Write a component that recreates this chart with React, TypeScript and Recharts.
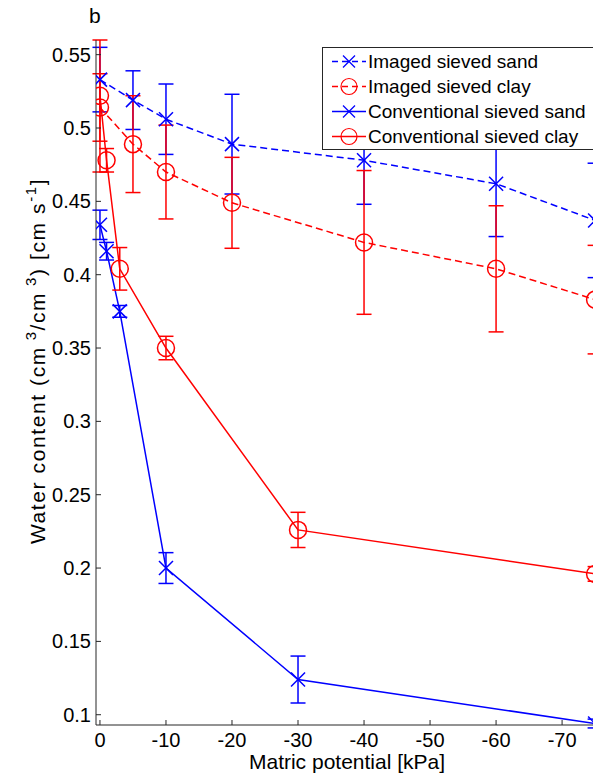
import React from 'react';
import { LineChart, Line, XAxis, YAxis, ErrorBar } from 'recharts';

// matric potential [kPa]
const imagedPotential = [0, -5, -10, -20, -40, -60, -75];
const conventionalPotential = [0, -1, -3, -10, -30, -75];

// water content and error (minus, plus) per series
const imagedSand = [0.533, 0.519, 0.506, 0.489, 0.478, 0.462, 0.437];
const imagedSandErr = [0.022, 0.02, 0.024, 0.034, 0.03, 0.036, 0.039];
const imagedClay = [0.514, 0.489, 0.47, 0.449, 0.422, 0.404, 0.383];
const imagedClayErr = [0.023, 0.033, 0.032, 0.031, 0.049, 0.043, 0.037];
const conventionalSand = [0.434, 0.416, 0.375, 0.2, 0.124, 0.094];
const conventionalSandErr = [0.01, 0.006, 0.004, 0.0105, 0.016, 0.003];
const conventionalClay = [0.522, 0.478, 0.404, 0.35, 0.226, 0.196];
const conventionalClayErr = [0.052, 0.008, 0.0145, 0.008, 0.012, 0.005];
// first clay bar runs off the top of the axes, only the visible part is kept
const conventionalClayErrTop = [0.038, 0.008, 0.0145, 0.008, 0.012, 0.005];

const xTicks = [0, -10, -20, -30, -40, -50, -60, -70];
const yTicks = [0.1, 0.15, 0.2, 0.25, 0.3, 0.35, 0.4, 0.45, 0.5, 0.55];

const BLUE = '#0000ff';
const RED = '#ff0000';
const AXIS = '#262626';
const FONT = '"Liberation Sans", Arial, Helvetica, sans-serif';

const rows = (xs: number[], ys: number[], lo: number[], hi: number[] = lo) =>
  xs.map((x, i) => ({ x, y: ys[i], err: [lo[i], hi[i]] }));

const imagedSandData = rows(imagedPotential, imagedSand, imagedSandErr);
const imagedClayData = rows(imagedPotential, imagedClay, imagedClayErr);
const convSandData = rows(conventionalPotential, conventionalSand, conventionalSandErr);
const convClayData = rows(conventionalPotential, conventionalClay, conventionalClayErr, conventionalClayErrTop);

const crossDot = (color: string) => (props: any) => {
  const { cx, cy, index } = props;
  const s = 7;
  return (
    <g key={`x-${index}`}>
      <line x1={cx - s} y1={cy - s} x2={cx + s} y2={cy + s} stroke={color} strokeWidth={1.5} />
      <line x1={cx - s} y1={cy + s} x2={cx + s} y2={cy - s} stroke={color} strokeWidth={1.5} />
    </g>
  );
};

const circleDot = (color: string) => (props: any) => {
  const { cx, cy, index } = props;
  return <circle key={`o-${index}`} cx={cx} cy={cy} r={8.5} fill="none" stroke={color} strokeWidth={1.5} />;
};

const YLabel = () => {
  const cy = 361;
  return (
    <g>
      <text x={89} y={23} fontSize={21} fontFamily={FONT} fill="#000">b</text>
      <text
        transform="rotate(-90)"
        x={-cy}
        y={45}
        textAnchor="middle"
        fontSize={21}
        fontFamily={FONT}
        letterSpacing={1.6}
        fill="#000"
      >
        Water content (cm
        <tspan dy={-9} fontSize={15}> 3</tspan>
        <tspan dy={9}>/cm</tspan>
        <tspan dy={-9} fontSize={15}> 3</tspan>
        <tspan dy={9}>) [cm s</tspan>
        <tspan dy={-9} fontSize={15}>-1</tspan>
        <tspan dy={9}>]</tspan>
      </text>
    </g>
  );
};

const XLabel = () => (
  <text x={347} y={769} textAnchor="middle" fontSize={21} fontFamily={FONT} fill="#000">
    Matric potential [kPa]
  </text>
);

const legendItems = [
  { name: 'Imaged sieved sand', color: BLUE, dash: true, marker: 'x' },
  { name: 'Imaged sieved clay', color: RED, dash: true, marker: 'o' },
  { name: 'Conventional sieved sand', color: BLUE, dash: false, marker: 'x' },
  { name: 'Conventional sieved clay', color: RED, dash: false, marker: 'o' },
];

const LegendBox = () => (
  <div
    style={{
      position: 'absolute',
      left: 322,
      top: 47,
      width: 290,
      border: `1px solid ${AXIS}`,
      background: '#fff',
      padding: '1px 0 0 9px',
      fontFamily: FONT,
      fontSize: 19,
      color: '#000',
      boxSizing: 'border-box',
    }}
  >
    {legendItems.map((it) => (
      <div key={it.name} style={{ display: 'flex', alignItems: 'center', height: 25 }}>
        <svg width={34} height={25}>
          <line x1={0} y1={12.5} x2={34} y2={12.5} stroke={it.color} strokeWidth={1.5}
            strokeDasharray={it.dash ? '6 4' : undefined} />
          {it.marker === 'x' ? (
            <g stroke={it.color} strokeWidth={1.2}>
              <line x1={11} y1={6.5} x2={23} y2={18.5} />
              <line x1={11} y1={18.5} x2={23} y2={6.5} />
            </g>
          ) : (
            <circle cx={17} cy={12.5} r={8} fill="none" stroke={it.color} strokeWidth={1.2} />
          )}
        </svg>
        <span style={{ marginLeft: 2, whiteSpace: 'nowrap' }}>{it.name}</span>
      </div>
    ))}
  </div>
);

const App: React.FC = () => {
  const tickStyle = { fontSize: 20, fontFamily: FONT, fill: '#000' };
  return (
    <div style={{ position: 'absolute', left: 0, top: 0, width: 593, height: 779, overflow: 'hidden', background: '#fff' }}>
      <LineChart width={620} height={779} margin={{ top: 40, right: 15, left: 36, bottom: 0 }}>
        <XAxis
          type="number"
          dataKey="x"
          domain={[-76.5, 0.6]}
          reversed
          allowDataOverflow
          ticks={xTicks}
          interval={0}
          height={54}
          tickSize={-5}
          tickMargin={13}
          tick={tickStyle}
          stroke={AXIS}
          label={<XLabel />}
        />
        <YAxis
          type="number"
          domain={[0.093, 0.56]}
          allowDataOverflow
          ticks={yTicks}
          interval={0}
          width={60}
          tickSize={-5}
          tickMargin={10}
          tick={tickStyle}
          stroke={AXIS}
          label={<YLabel />}
        />
        <Line data={imagedSandData} dataKey="y" stroke={BLUE} strokeWidth={1.5} strokeDasharray="7 4"
          dot={crossDot(BLUE)} isAnimationActive={false}>
          <ErrorBar dataKey="err" direction="y" width={7.5} stroke={BLUE} strokeWidth={1.5} isAnimationActive={false} />
        </Line>
        <Line data={imagedClayData} dataKey="y" stroke={RED} strokeWidth={1.5} strokeDasharray="7 4"
          dot={circleDot(RED)} isAnimationActive={false}>
          <ErrorBar dataKey="err" direction="y" width={7.5} stroke={RED} strokeWidth={1.5} isAnimationActive={false} />
        </Line>
        <Line data={convSandData} dataKey="y" stroke={BLUE} strokeWidth={1.5}
          dot={crossDot(BLUE)} isAnimationActive={false}>
          <ErrorBar dataKey="err" direction="y" width={7.5} stroke={BLUE} strokeWidth={1.5} isAnimationActive={false} />
        </Line>
        <Line data={convClayData} dataKey="y" stroke={RED} strokeWidth={1.5}
          dot={circleDot(RED)} isAnimationActive={false}>
          <ErrorBar dataKey="err" direction="y" width={7.5} stroke={RED} strokeWidth={1.5} isAnimationActive={false} />
        </Line>
      </LineChart>
      <LegendBox />
    </div>
  );
};

export default App;
